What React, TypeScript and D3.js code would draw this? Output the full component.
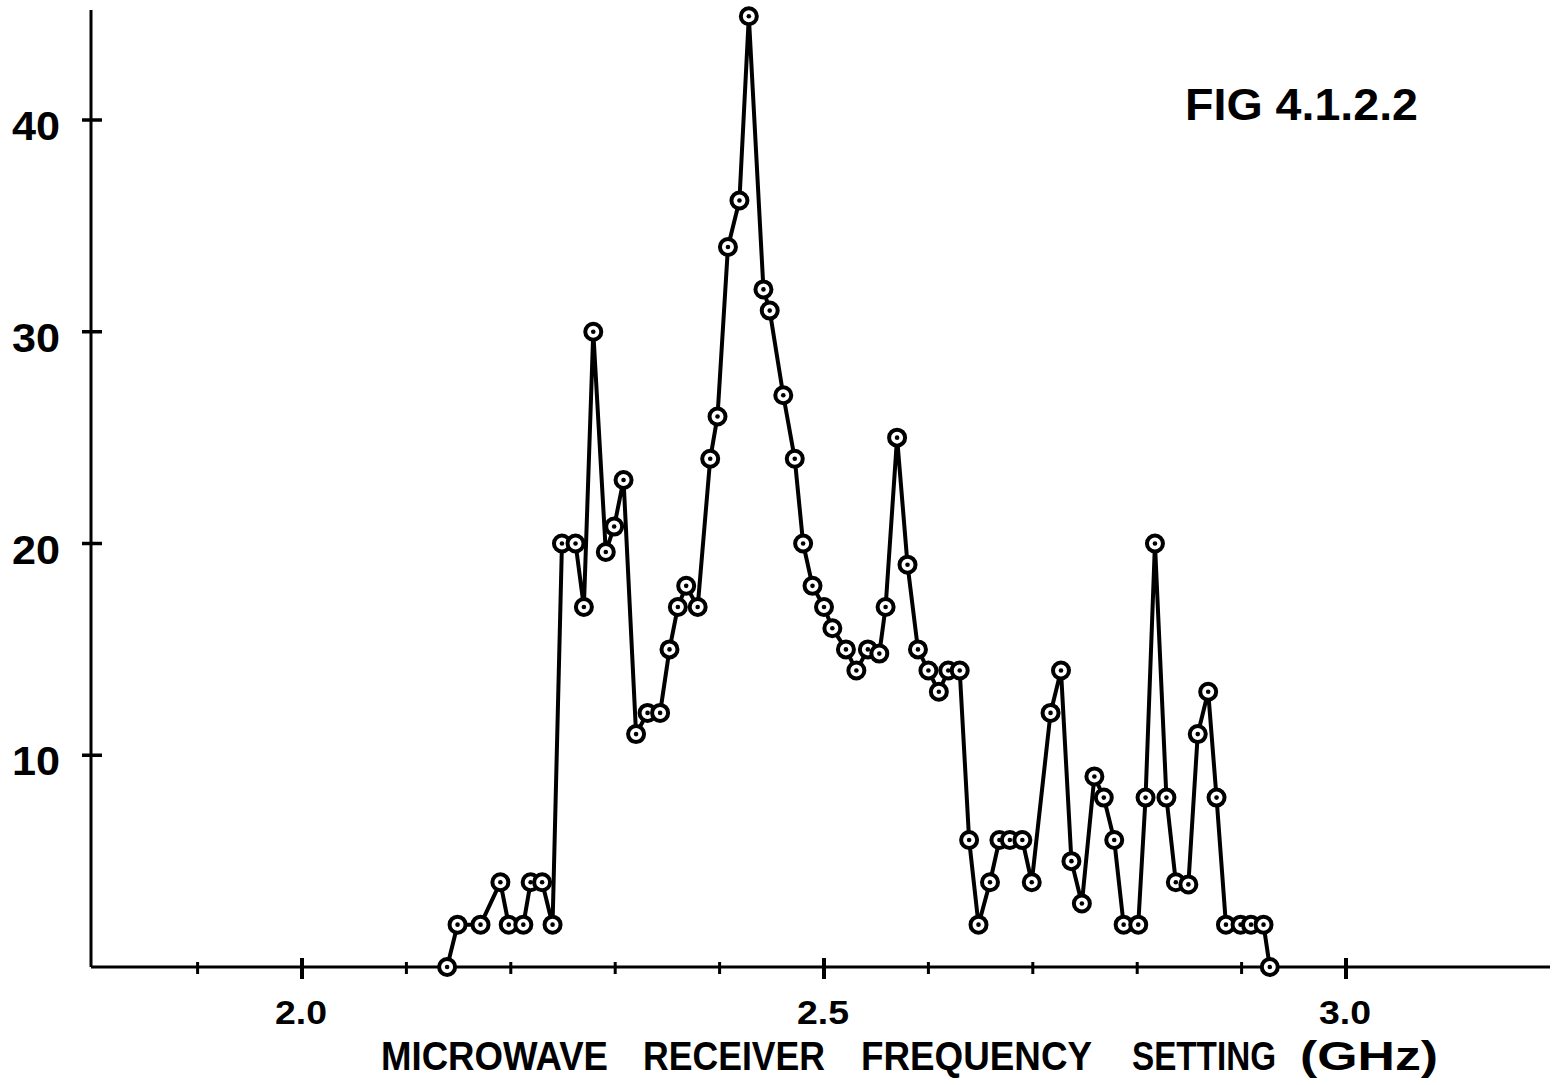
import React from "react";
import * as d3 from "d3";

// Receiver frequency settings (GHz) and measured response at each setting
const frequencies: number[] = [
  2.139, 2.149, 2.171, 2.19, 2.198, 2.212, 2.219, 2.23, 2.24, 2.249,
  2.262, 2.27, 2.279, 2.291, 2.299, 2.308, 2.32, 2.331, 2.343, 2.352,
  2.36, 2.368, 2.379, 2.391, 2.398, 2.408, 2.419, 2.428, 2.442, 2.448,
  2.461, 2.472, 2.48, 2.489, 2.5, 2.508, 2.521, 2.531, 2.542, 2.553,
  2.559, 2.57, 2.58, 2.59, 2.6, 2.61, 2.619, 2.63, 2.639, 2.648,
  2.659, 2.668, 2.678, 2.69, 2.699, 2.717, 2.727, 2.737, 2.747, 2.759,
  2.768, 2.778, 2.787, 2.801, 2.808, 2.817, 2.828, 2.837, 2.849, 2.858,
  2.868, 2.876, 2.885, 2.899, 2.909, 2.921, 2.927,
];

const responses: number[] = [
  0, 2, 2, 4, 2, 2, 4, 4, 2, 20,
  20, 17, 30, 19.6, 20.8, 23, 11, 12, 12, 15,
  17, 18, 17, 24, 26, 34, 36.2, 44.9, 32, 31,
  27, 24, 20, 18, 17, 16, 15, 14, 15, 14.8,
  17, 25, 19, 15, 14, 13, 14, 14, 6, 2,
  4, 6, 6, 6, 4, 12, 14, 5, 3, 9,
  8, 6, 2, 2, 8, 20, 8, 4, 3.9, 11,
  13, 8, 2, 2, 2, 2, 0,
];

const yTickValues: number[] = [10, 20, 30, 40];
const yTickLabels: string[] = ["10", "20", "30", "40"];
const xMajorTicks: number[] = [2.0, 2.5, 3.0];
const xMajorLabels: string[] = ["2.0", "2.5", "3.0"];
const xMinorTicks: number[] = [1.9, 2.1, 2.2, 2.3, 2.4, 2.6, 2.7, 2.8, 2.9];

const xTitleWords: string[] = ["MICROWAVE", "RECEIVER", "FREQUENCY", "SETTING", "(GHz)"];
const figTitle = "FIG 4.1.2.2";

// horizontal placement [left, width] of each lettered word of the axis title
const titleWordBoxes: [number, number][] = [
  [381, 227],
  [643, 182],
  [861, 231],
  [1132, 144],
  [1300, 138],
];

const W = 1554;
const H = 1085;
const INK = "#000";
const FONT = "'Liberation Sans', Arial, sans-serif";

export default function App() {
  const x = d3.scaleLinear().domain([2.0, 3.0]).range([302, 1346]);
  const y = d3.scaleLinear().domain([0, 40]).range([967, 120]);

  const axisX = 91;
  const axisY = y(0);
  const axisTop = y(45.2);
  const axisRight = 1550;

  const pts = frequencies.map((f, i) => [x(f), y(responses[i])] as [number, number]);
  const line = d3.line().curve(d3.curveLinear)(pts) || "";

  return (
    <svg
      width={W}
      height={H}
      viewBox={`0 0 ${W} ${H}`}
      style={{ position: "absolute", left: 0, top: 0, background: "#fff" }}
    >
      <rect x={0} y={0} width={W} height={H} fill="#fff" />

      {/* axes */}
      <line x1={axisX} y1={axisTop} x2={axisX} y2={axisY} stroke={INK} strokeWidth={3} />
      <line x1={axisX} y1={axisY} x2={axisRight} y2={axisY} stroke={INK} strokeWidth={3} />

      {/* y ticks and labels */}
      {yTickValues.map((v, i) => (
        <g key={`yt${v}`}>
          <line x1={axisX - 9} x2={axisX + 11} y1={y(v)} y2={y(v)} stroke={INK} strokeWidth={3.5} />
          <text
            x={60}
            y={y(v) + 20}
            textAnchor="end"
            fontFamily={FONT}
            fontWeight="bold"
            fontSize={40}
            textLength={48}
            lengthAdjust="spacingAndGlyphs"
            fill={INK}
          >
            {yTickLabels[i]}
          </text>
        </g>
      ))}

      {/* x ticks and labels */}
      {xMinorTicks.map((v) => (
        <line key={`xm${v}`} x1={x(v)} x2={x(v)} y1={axisY - 5} y2={axisY + 7} stroke={INK} strokeWidth={3} />
      ))}
      {xMajorTicks.map((v, i) => (
        <g key={`xt${v}`}>
          <line x1={x(v)} x2={x(v)} y1={axisY - 9} y2={axisY + 12} stroke={INK} strokeWidth={4} />
          <text
            x={x(v) - 27}
            y={axisY + 57}
            fontFamily={FONT}
            fontWeight="bold"
            fontSize={33}
            textLength={52}
            lengthAdjust="spacingAndGlyphs"
            fill={INK}
          >
            {xMajorLabels[i]}
          </text>
        </g>
      ))}

      {/* axis title */}
      {xTitleWords.map((w, i) => (
        <text
          key={`w${i}`}
          x={titleWordBoxes[i][0]}
          y={1070}
          fontFamily={FONT}
          fontWeight="bold"
          fontSize={40}
          textLength={titleWordBoxes[i][1]}
          lengthAdjust="spacingAndGlyphs"
          fill={INK}
        >
          {w}
        </text>
      ))}

      {/* figure label */}
      <text
        x={1185}
        y={120}
        fontFamily={FONT}
        fontWeight="bold"
        fontSize={44}
        textLength={233}
        lengthAdjust="spacingAndGlyphs"
        fill={INK}
      >
        {figTitle}
      </text>

      {/* response curve */}
      <path d={line} fill="none" stroke={INK} strokeWidth={4} strokeLinejoin="round" />

      {/* measurement markers */}
      {pts.map(([px, py], i) => (
        <g key={`p${i}`}>
          <circle cx={px} cy={py} r={8} fill="#fff" stroke={INK} strokeWidth={4} />
          <circle cx={px} cy={py} r={2.3} fill={INK} />
        </g>
      ))}
    </svg>
  );
}
